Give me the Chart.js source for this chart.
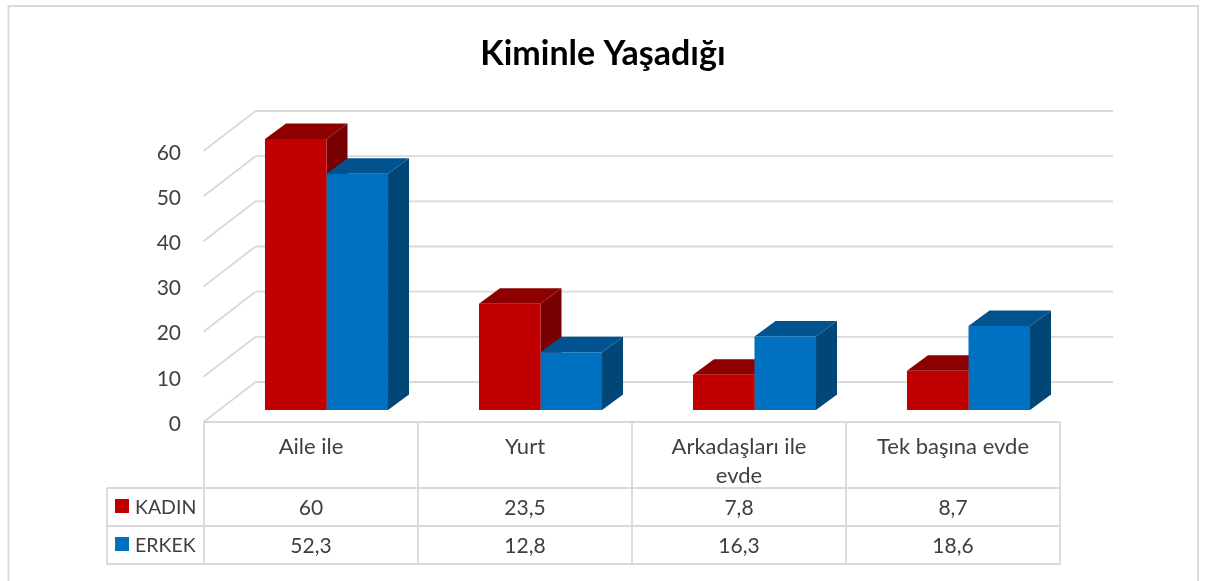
<!DOCTYPE html>
<html>
<head>
<meta charset="utf-8">
<title>Kiminle Yaşadığı</title>
<script src="https://cdn.jsdelivr.net/npm/chart.js@4"></script>
<style>
  html, body { margin: 0; padding: 0; background: #fff; }
  #wrap { width: 1213px; height: 581px; }
</style>
</head>
<body>
<div id="wrap"><canvas id="myChart" width="1213" height="581"></canvas></div>
<script>
const categories = [['Aile ile'], ['Yurt'], ['Arkadaşları ile', 'evde'], ['Tek başına evde']];
const kadin = [60, 23.5, 7.8, 8.7];
const erkek = [52.3, 12.8, 16.3, 18.6];
const yTicks = [0, 10, 20, 30, 40, 50, 60];

const FONT = 'Lato, sans-serif';
const TEXT = '#404040';
const LINE = '#d9d9d9';

// Colores de cada serie: frente, tapa y costado
const renkler = [
    { front: '#c00000', top: '#8e0000', side: '#780000' },
    { front: '#0070c0', top: '#00538e', side: '#004677' }
];

// Profundidad de las barras y del piso, en pixeles
const barDepth = { x: 21, y: 15.5 };
const wallBack = { x: 36, y: -28 };
const wallFront = { x: -16, y: 12 };
const wallRight = 1113;

// Tabla de datos debajo del grafico
const tablaTop = 422;
const tablaRows = [488, 526, 564];
const tablaLeft = 107;

function line(c, x1, y1, x2, y2) {
    c.beginPath();
    c.moveTo(x1, y1);
    c.lineTo(x2, y2);
    c.stroke();
}

function poly(c, pts, color) {
    c.fillStyle = color;
    c.beginPath();
    pts.forEach((p, i) => i ? c.lineTo(p[0], p[1]) : c.moveTo(p[0], p[1]));
    c.closePath();
    c.fill();
}

const fondo3d = {
    id: 'fondo3d',
    beforeDatasetsDraw(chart) {
        const c = chart.ctx;
        const y = chart.scales.y;
        const left = chart.chartArea.left;

        c.save();
        c.strokeStyle = LINE;
        c.lineWidth = 1.8;

        // marco exterior, sin linea inferior
        c.beginPath();
        c.moveTo(8.5, 581);
        c.lineTo(8.5, 6);
        c.lineTo(1198, 6);
        c.lineTo(1198, 581);
        c.stroke();

        // pared del fondo y piso
        yTicks.forEach(v => {
            const py = y.getPixelForValue(v);
            line(c, left + wallFront.x, py + wallFront.y, left + wallBack.x, py + wallBack.y);
            line(c, left + wallBack.x, py + wallBack.y, wallRight, py + wallBack.y);
        });

        // costado y tapa de cada barra
        chart.data.datasets.forEach((ds, i) => {
            const col = renkler[i];
            chart.getDatasetMeta(i).data.forEach(bar => {
                const x2 = bar.x + bar.width / 2;
                const x1 = bar.x - bar.width / 2;
                const dx = barDepth.x, dy = barDepth.y;
                poly(c, [[x2, bar.y], [x2 + dx, bar.y - dy], [x2 + dx, bar.base - dy], [x2, bar.base]], col.side);
                poly(c, [[x1, bar.y], [x1 + dx, bar.y - dy], [x2 + dx, bar.y - dy], [x2, bar.y]], col.top);
            });
        });
        c.restore();
    },
    afterDraw(chart) {
        const c = chart.ctx;
        const xs = chart.scales.x;
        const step = xs.getPixelForValue(1) - xs.getPixelForValue(0);
        const colX = i => xs.getPixelForValue(0) - step / 2 - 15.5 + i * step;
        const right = colX(categories.length);

        c.save();
        c.strokeStyle = LINE;
        c.lineWidth = 1.8;
        line(c, colX(0), tablaTop, right, tablaTop);
        tablaRows.forEach(r => line(c, tablaLeft, r, right, r));
        line(c, tablaLeft, tablaRows[0], tablaLeft, tablaRows[2]);
        categories.forEach((_, i) => line(c, colX(i), tablaTop, colX(i), tablaRows[2]));
        line(c, right, tablaTop, right, tablaRows[2]);

        c.fillStyle = TEXT;
        c.textBaseline = 'middle';
        c.textAlign = 'center';
        c.font = '22px ' + FONT;
        categories.forEach((lab, i) => {
            const cx = colX(i) + step / 2;
            lab.forEach((t, k) => c.fillText(t, cx, 447 + k * 29));
        });

        const filas = [508, 546];
        chart.data.datasets.forEach((ds, d) => {
            c.fillStyle = TEXT;
            c.textAlign = 'center';
            c.font = '21px ' + FONT;
            ds.data.forEach((v, i) => {
                c.fillText(String(v).replace('.', ','), colX(i) + step / 2, filas[d]);
            });
            c.textAlign = 'left';
            c.font = '19.5px ' + FONT;
            c.fillText(ds.label, 135, filas[d]);
            c.fillStyle = renkler[d].front;
            c.fillRect(115, filas[d] - 9, 14, 14);
        });
        c.restore();
    }
};

const myChart = new Chart(document.getElementById('myChart').getContext('2d'), {
    type: 'bar',
    data: {
        labels: categories,
        datasets: [
            { label: 'KADIN', data: kadin, backgroundColor: renkler[0].front },
            { label: 'ERKEK', data: erkek, backgroundColor: renkler[1].front }
        ]
    },
    options: {
        responsive: false,
        animation: false,
        events: [],
        categoryPercentage: 0.575,
        barPercentage: 1,
        layout: { padding: { left: 0, right: 7, top: 33, bottom: 171 } },
        plugins: {
            legend: { display: false },
            tooltip: { enabled: false },
            title: {
                display: true,
                text: 'Kiminle Yaşadığı',
                color: '#000',
                font: { family: FONT, size: 34, weight: 'bold', lineHeight: 1.25 },
                padding: { top: 0, bottom: 63.5 }
            }
        },
        scales: {
            x: { display: false },
            y: {
                min: 0,
                max: 60,
                afterFit(scale) { scale.width = 219.5; },
                afterBuildTicks(scale) { scale.ticks = yTicks.map(v => ({ value: v })); },
                grid: { display: false, drawTicks: false },
                border: { display: false },
                ticks: {
                    color: TEXT,
                    font: { family: FONT, size: 21 },
                    padding: 38.5,
                    labelOffset: 14,
                    autoSkip: false
                }
            },
            // espacio vacio a la derecha del grafico
            derecha: {
                position: 'right',
                afterFit(scale) { scale.width = 130.5; },
                grid: { display: false },
                border: { display: false },
                ticks: { display: false }
            }
        }
    },
    plugins: [fondo3d]
});
</script>
</body>
</html>
